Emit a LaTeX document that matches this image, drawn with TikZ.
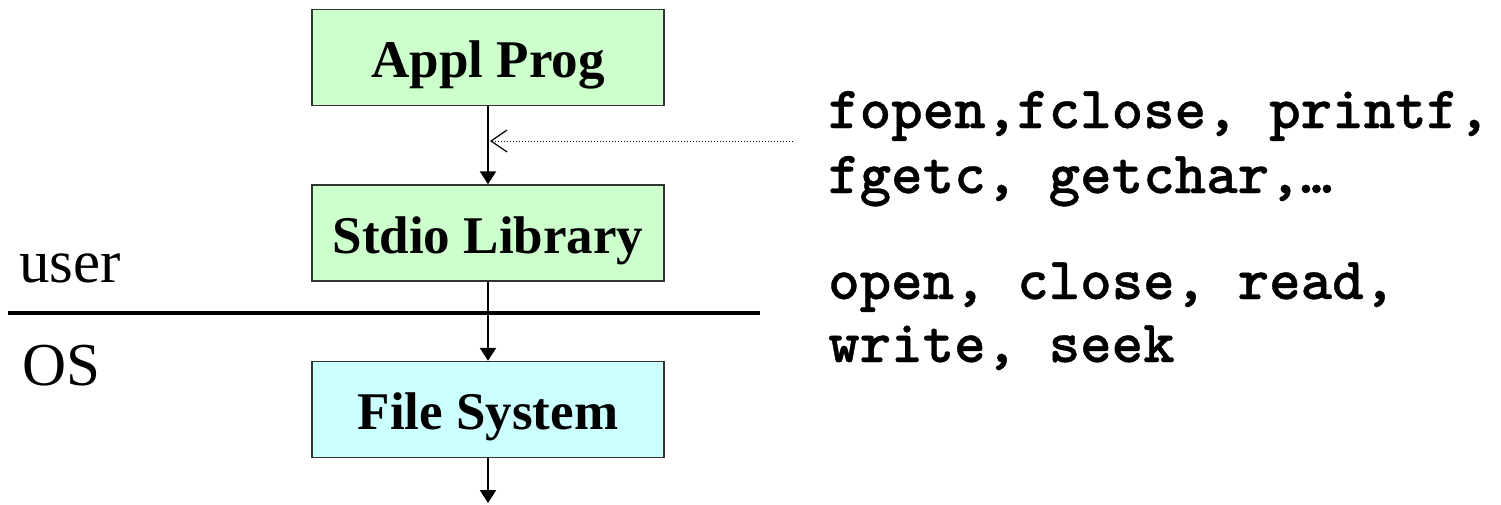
\documentclass[tikz,border=0pt]{standalone}
\usepackage{fontspec}
\setmainfont{Liberation Serif}
\newfontfamily\codefont[FakeBold=0.6]{lmmonolt10-bold.otf}
\usetikzlibrary{arrows.meta}
\definecolor{usergreen}{HTML}{CCFFCC}
\definecolor{oscyan}{HTML}{CCFFFF}
\tikzset{
  layerbox/.style={draw=black!80, line width=1.5pt, minimum width=352pt,
    minimum height=96pt, inner sep=0pt, text height=50pt, text depth=10pt,
    font=\fontsize{53}{60}\selectfont\bfseries},
  flow/.style={line width=2.5pt, -{Triangle[length=13pt,width=16pt]}},
  callout/.style={line width=1pt, dotted, -{Straight Barb[length=16pt,width=22pt,line width=1.2pt]}},
  calls/.style={anchor=base west, inner sep=0pt,
    font=\fontsize{60}{66}\selectfont\codefont},
  side/.style={anchor=base west, inner sep=0pt, font=\fontsize{61}{70}\selectfont}
}
\begin{document}
\begin{tikzpicture}[x=1pt, y=-1pt]
  \useasboundingbox (0,0) rectangle (1501,504);

  % the three layers
  \node[layerbox, fill=usergreen] (appl)  at (488,57.5)  {Appl Prog};
  \node[layerbox, fill=usergreen] (stdio) at (488,233)   {Stdio Library};
  \node[layerbox, fill=oscyan]    (fs)    at (488,409.5) {File System};

  % user / kernel boundary
  \coordinate (sepL) at (8,313);
  \coordinate (sepR) at (760,313);
  \draw[line width=3.5pt] (sepL) -- (sepR);
  \node[side] (user) at (19,282) {user};
  \node[side] (os)   at (22,385) {OS};

  % calls flowing down the stack
  \coordinate (below) at (488,503);
  \draw[flow] (appl.south) -- (stdio.north);
  \draw[flow] (stdio.south) -- (fs.north);
  \draw[flow] (fs.south) -- (below);

  % library interface pointer
  \coordinate (dotsrc) at (793,141);
  \draw[callout] (dotsrc) -- ([xshift=2pt]appl.south |- dotsrc);

  % function names
  \node[calls] (lib1) at (828,128) {fopen,fclose, printf,};
  \node[calls] (lib2) at (828,193) {fgetc, getchar,…};
  \node[calls] (sys1) at (828,299) {open, close, read,};
  \node[calls] (sys2) at (828,362) {write, seek};
\end{tikzpicture}
\end{document}
